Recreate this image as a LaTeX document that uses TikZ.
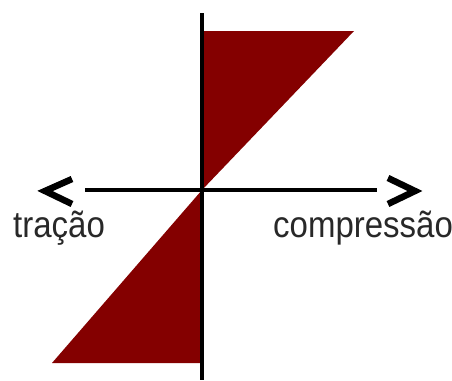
\documentclass[tikz,border=0pt]{standalone}
\usepackage{fontspec}
\setmainfont{Liberation Sans}
\definecolor{darkred}{RGB}{132,0,0}
\definecolor{txt}{RGB}{40,40,40}
\begin{document}
\begin{tikzpicture}[x=1pt,y=-1pt,
  axis/.style={line width=3.2pt,black},
  chev/.style={line width=6.5pt,black,miter limit=10},
  lbl/.style={inner sep=0pt,text=txt,font=\fontsize{33}{33}\selectfont,yscale=1.12}
]
\useasboundingbox (0,0) rectangle (452,380);
% axis coordinates
\coordinate (o) at (202,190);
\coordinate (vt) at (202,13);
\coordinate (vb) at (202,380);
\coordinate (hl) at (85,190);
\coordinate (hr) at (377,190);
% triangles
\coordinate (t1) at (202,31);
\coordinate (t2) at (354,31);
\coordinate (b1) at (202,363);
\coordinate (b2) at (52,363);
\fill[darkred] (t1) -- (t2) -- (o) -- cycle;
\fill[darkred] (o) -- (b1) -- (b2) -- cycle;
\draw[axis] (vt) -- (vb);
\draw[axis] (hl) -- (hr);
% chevrons
\coordinate (lt) at (45,191);
\coordinate (lu) at (72,179);
\coordinate (ld) at (72,204);
\coordinate (rt) at (415,191);
\coordinate (ru) at (388,178);
\coordinate (rd) at (388,204);
\draw[chev] (lu) -- (lt) -- (ld);
\draw[chev] (ru) -- (rt) -- (rd);
% labels
\node[lbl,anchor=base west] (tr) at (13,237) {tração};
\node[lbl,anchor=base west] (cp) at (273,237) {compressão};
\end{tikzpicture}
\end{document}
